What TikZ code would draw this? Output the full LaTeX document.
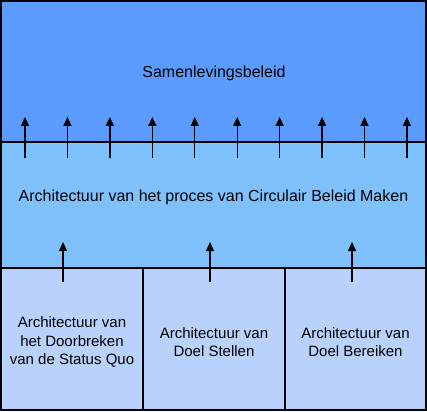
\documentclass[tikz,border=0pt]{standalone}
\usepackage{fontspec}
\setmainfont{Liberation Sans}
\usetikzlibrary{arrows.meta}
\definecolor{topblue}{HTML}{5B9BFE}
\definecolor{midblue}{HTML}{7FC1FC}
\definecolor{lowblue}{HTML}{B8D2FB}
\begin{document}
\begin{tikzpicture}[x=1pt,y=-1pt,
  layer/.style={draw=black,line width=1.2pt},
  lbl/.style={font=\fontsize{16}{18.5}\selectfont,align=center,inner sep=0pt},
  sublbl/.style={font=\fontsize{15}{18.5}\selectfont,align=center,inner sep=0pt},
  up/.style={line width=1.3pt,-{Triangle[length=9pt,width=8pt]}}]
\useasboundingbox (0,0) rectangle (427,411);
\fill[topblue] (1,1) rectangle (426,142);
\fill[midblue] (1,142) rectangle (426,268);
\fill[lowblue] (1,268) rectangle (426,410);
\draw[layer] (1,1) rectangle (426,142);
\draw[layer] (1,142) rectangle (426,268);
\draw[layer] (1,268) rectangle (143,410);
\draw[layer] (143,268) rectangle (285,410);
\draw[layer] (285,268) rectangle (426,410);
\node[lbl] (top) at (214,73) {Samenlevingsbeleid};
\node[lbl] (mid) at (213.5,197) {Architectuur van het proces van Circulair Beleid Maken};
\node[sublbl] (b1) at (72,342) {Architectuur van\\het Doorbreken\\van de Status Quo};
\node[sublbl] (b2) at (214,342) {Architectuur van\\Doel Stellen};
\node[sublbl] (b3) at (355.5,342) {Architectuur van\\Doel Bereiken};
\foreach \i in {0,...,9} {
  \coordinate (s\i) at ({25+\i*42.44},158);
  \coordinate (t\i) at ({25+\i*42.44},117);
  \draw[up] (s\i) -- (t\i);
}
\foreach \x [count=\j] in {63,210,352} {
  \coordinate (bs\j) at (\x,282);
  \coordinate (bt\j) at (\x,242);
  \draw[up] (bs\j) -- (bt\j);
}
\end{tikzpicture}
\end{document}
